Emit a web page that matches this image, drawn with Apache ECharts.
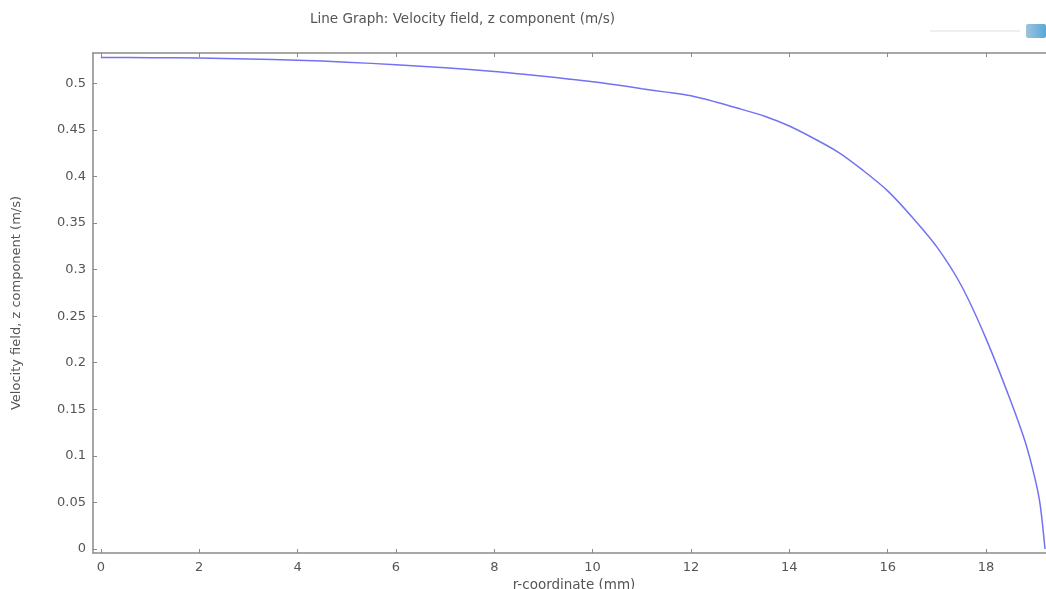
<!DOCTYPE html>
<html>
<head>
<meta charset="utf-8">
<script src="https://cdn.jsdelivr.net/npm/echarts@6/dist/echarts.min.js"></script>
<style>
html,body{margin:0;padding:0;background:#fff;}
#chart{width:1046px;height:589px;}
</style>
</head>
<body>
<div id="chart"></div>
<script>
// r-coordinate (mm)
const rCoord = [0, 1, 2, 3, 4, 5, 6, 7, 8, 8.5, 9, 9.5, 10, 10.5, 11, 11.5, 12, 12.5, 13, 13.5, 14, 14.5, 15, 15.5, 16, 16.5, 17, 17.5, 18, 18.5, 18.8, 19.0, 19.1, 19.2];
// Velocity field, z component (m/s)
const velocityZ = [0.5277, 0.5275, 0.5270, 0.5260, 0.5248, 0.5227, 0.5199, 0.5167, 0.5127, 0.5102, 0.5075, 0.5047, 0.5017, 0.4981, 0.4942, 0.4905, 0.4865, 0.4800, 0.4725, 0.4646, 0.4541, 0.4407, 0.4258, 0.4064, 0.3845, 0.3562, 0.3243, 0.2826, 0.2259, 0.1592, 0.1145, 0.0747, 0.0478, 0];
const xTicks = [0, 2, 4, 6, 8, 10, 12, 14, 16, 18];
const yTicks = [0, 0.05, 0.1, 0.15, 0.2, 0.25, 0.3, 0.35, 0.4, 0.45, 0.5];

const titleText = 'Line Graph: Velocity field, z component (m/s)';
const xName = 'r-coordinate (mm)';
const yName = 'Velocity field, z component (m/s)';

const font = 'DejaVu Sans';
const axisCol = '#8a8a8a';
const textCol = '#555';

const chart = echarts.init(document.getElementById('chart'), null, {renderer: 'canvas'});
const pts = rCoord.map((r, i) => [r, velocityZ[i]]);

const lineOpt = {show: true, onZero: false, lineStyle: {color: axisCol, width: 1.5}};
const tickOpt = vals => ({show: true, inside: true, length: 4, lineStyle: {color: axisCol}, customValues: vals});

chart.setOption({
  animation: false,
  backgroundColor: '#fff',
  title: {
    text: titleText,
    left: 310, top: 12, padding: 0,
    textStyle: {fontFamily: font, fontSize: 13.5, fontWeight: 'normal', color: textCol}
  },
  grid: {left: 93, right: 0, top: 53, bottom: 36, containLabel: false, outerBoundsMode: 'none'},
  xAxis: [
    {
      type: 'value', position: 'bottom',
      min: -0.16, max: 19.22,
      name: xName, nameLocation: 'middle', nameGap: 21,
      nameTextStyle: {fontFamily: font, fontSize: 13.5, color: textCol, padding: [0, 0, 0, 9]},
      axisLine: lineOpt,
      axisTick: tickOpt(xTicks),
      splitLine: {show: false},
      axisLabel: {fontFamily: font, fontSize: 13, color: textCol, margin: 8, customValues: xTicks}
    },
    {
      type: 'value', position: 'top',
      min: -0.16, max: 19.22,
      axisLine: lineOpt,
      axisTick: tickOpt(xTicks),
      splitLine: {show: false},
      axisLabel: {show: false}
    }
  ],
  yAxis: [
    {
      type: 'value', position: 'left',
      min: -0.0043, max: 0.5325,
      name: yName, nameLocation: 'middle', nameGap: 70,
      nameTextStyle: {fontFamily: font, fontSize: 13, color: textCol},
      axisLine: lineOpt,
      axisTick: tickOpt(yTicks),
      splitLine: {show: false},
      axisLabel: {fontFamily: font, fontSize: 13, color: textCol, margin: 7, customValues: yTicks,
        formatter: v => String(+v.toFixed(2))}
    }
  ],
  series: [{
    type: 'line',
    data: pts,
    xAxisIndex: 0, yAxisIndex: 0,
    showSymbol: false,
    smooth: 0.3,
    lineStyle: {color: '#7272f2', width: 1.5}
  }],
  graphic: [
    {type: 'rect', shape: {x: 1026, y: 24, width: 20, height: 14, r: 2},
     style: {fill: new echarts.graphic.LinearGradient(0, 0, 1, 0, [{offset: 0, color: '#9cc4dc'}, {offset: 1, color: '#5aa6d8'}])}},
    {type: 'rect', shape: {x: 930, y: 30, width: 90, height: 2}, style: {fill: '#eeeeee'}}
  ]
});
</script>
</body>
</html>
